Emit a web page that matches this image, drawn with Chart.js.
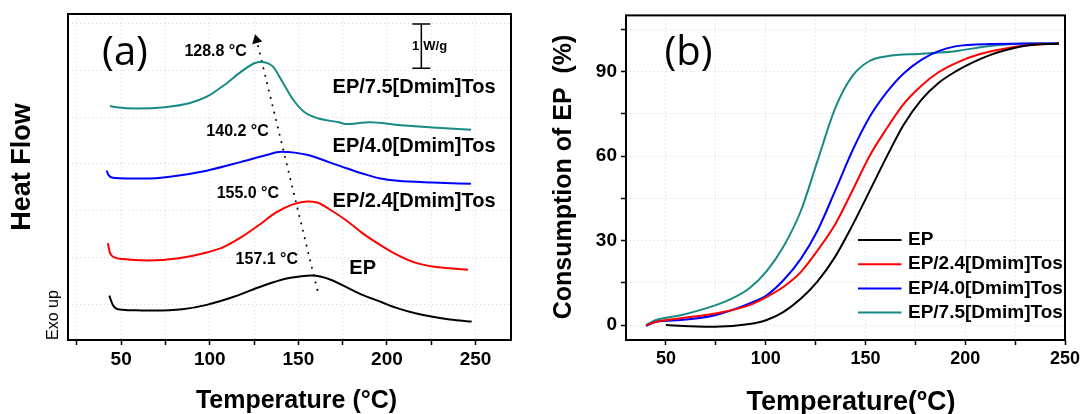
<!DOCTYPE html>
<html>
<head>
<meta charset="utf-8">
<script src="https://cdn.jsdelivr.net/npm/chart.js@4/dist/chart.umd.min.js"></script>
<style>
  html, body { margin: 0; padding: 0; background: #fff; }
  #wrap { position: relative; width: 1086px; height: 414px; }
  .panel { position: absolute; top: 0; width: 543px; height: 414px; }
</style>
</head>
<body>
<div id="wrap">
  <div class="panel" style="left:0"><canvas id="dsc_chart"></canvas></div>
  <div class="panel" style="left:543px"><canvas id="conv_chart"></canvas></div>
</div>
<script>
// ---- (a) DSC curves, heat flow in W/g (curves stacked with offsets) ----
const seriesNames = ['EP', 'EP/2.4[Dmim]Tos', 'EP/4.0[Dmim]Tos', 'EP/7.5[Dmim]Tos'];
const seriesColors = ['#000000', '#ff0000', '#0000ff', '#178a84'];
const peakTemps = [157.1, 155.0, 140.2, 128.8];

const dscT_EP = [43.3, 45.3, 48.2, 55, 68.8, 84.5, 98.3, 114, 129.7, 143.4, 150, 157.1, 163, 169, 176.8, 186.6, 196.4, 206.2, 216, 225.8, 235.6, 247.8];
const dscHF_EP = [0.19, -0.02, -0.12, -0.14, -0.15, -0.12, -0.02, 0.17, 0.41, 0.58, 0.62, 0.65, 0.62, 0.54, 0.39, 0.20, 0.05, -0.10, -0.21, -0.29, -0.35, -0.40];

const dscT_24 = [42.5, 43.7, 46.3, 51.2, 64.9, 82.5, 98.3, 108, 117.8, 127.6, 137.5, 147.3, 155.0, 161, 166.9, 176.7, 186.5, 196.3, 206.1, 215.9, 225.7, 235.5, 245.7];
const dscHF_24 = [1.38, 1.16, 1.06, 1.02, 0.99, 1.04, 1.17, 1.30, 1.52, 1.79, 2.08, 2.27, 2.33, 2.30, 2.17, 1.91, 1.60, 1.34, 1.11, 0.94, 0.85, 0.81, 0.78];

const dscT_40 = [41.8, 42.9, 45.3, 63, 78.6, 98.3, 117.8, 131.6, 140.2, 148, 156, 166.9, 176.7, 186.5, 196.3, 206.1, 225.7, 247.4];
const dscHF_40 = [3.03, 2.93, 2.87, 2.85, 2.90, 3.03, 3.23, 3.38, 3.46, 3.44, 3.38, 3.23, 3.09, 2.96, 2.85, 2.80, 2.76, 2.73];

const dscT_75 = [43.7, 47.3, 59, 74.7, 88.4, 98.3, 108, 117.8, 125.2, 128.8, 135.5, 141.4, 147.3, 153.2, 161, 172.8, 176.7, 190.4, 206.1, 225.7, 247.4];
const dscHF_75 = [4.50, 4.47, 4.44, 4.47, 4.56, 4.71, 4.97, 5.28, 5.47, 5.50, 5.40, 5.02, 4.63, 4.37, 4.22, 4.13, 4.09, 4.13, 4.07, 4.01, 3.96];

// dotted guide through the peaks, arrow at the top end
const trendT = [160.7, 126.4];
const trendHF = [0.32, 6.0];

const scaleBarWg = 1;

// ---- (b) consumption of EP, % ----
const convT_EP = [50, 62, 74.6, 91.9, 100.5, 109, 117.7, 126, 135, 143.5, 152, 160.8, 169, 178, 186.6, 195, 203.8, 212, 220, 230, 247];
const conv_EP = [0, -0.4, -0.6, 0.35, 1.8, 4.7, 9.4, 15.5, 24.5, 35.5, 47.5, 60, 71, 80, 86, 90, 93.3, 95.8, 97.6, 99.2, 100];

const convT_24 = [40.2, 45.3, 57.4, 74.6, 91.9, 100.5, 109, 117.7, 126, 135, 143.5, 152, 160.8, 169, 178, 186.6, 197, 207, 217.4, 230, 247];
const conv_24 = [0, 1.2, 2.4, 4.1, 7.1, 10, 13.6, 18.9, 26.5, 36, 47.8, 60, 70, 78.4, 85, 89.8, 93.6, 96.2, 97.9, 99.3, 100];

const convT_40 = [40, 45.3, 57.4, 74.6, 92, 100.5, 109, 117.7, 126, 135, 143.5, 152, 160.8, 169, 178, 186.6, 195, 212, 247];
const conv_40 = [-0.3, 1.2, 1.8, 3.5, 7.7, 10.6, 16, 23.6, 33.6, 48, 62, 73.8, 82.8, 89.3, 94.2, 97.3, 99, 99.8, 100];

const convT_75 = [40, 45, 57.4, 74.6, 83, 92, 100.5, 109, 117.7, 126, 135, 143.5, 152, 160.8, 178, 195, 212, 229.7, 247];
const conv_75 = [0, 1.8, 3.5, 7, 9.4, 13.2, 19.2, 28, 40.7, 58.4, 77.3, 88.5, 93.8, 95.5, 96.4, 97.3, 99.1, 100, 100];

// axis ticks: every 25 / 15 with labels on the majors
const xTicksA = [25, 50, 75, 100, 125, 150, 175, 200, 225, 250];
const xLabelsA = [50, 100, 150, 200, 250];
const yGridA = [0, 1.0606, 2.1212, 3.1818, 4.2424, 5.303, 6.3636];
const xTicksB = [50, 75, 100, 125, 150, 175, 200, 225, 250];
const xLabelsB = [50, 100, 150, 200, 250];
const yTicksB = [0, 15, 30, 45, 60, 75, 90, 105];
const yLabelsB = [0, 30, 60, 90];

const FONT = '"Liberation Sans", Arial, sans-serif';

function pts(xs, ys) {
  return xs.map((x, i) => ({ x: x, y: ys[i] }));
}

function curve(label, color, xs, ys) {
  return {
    label: label,
    data: pts(xs, ys),
    borderColor: color,
    backgroundColor: color,
    borderWidth: 2,
    pointRadius: 0,
    fill: false,
    cubicInterpolationMode: 'monotone'
  };
}

function fixedTicks(values) {
  return scale => { scale.ticks = values.map(v => ({ value: v })); };
}

function text(ctx, str, x, y, font, align, rot) {
  ctx.save();
  ctx.translate(x, y);
  if (rot) ctx.rotate(rot);
  ctx.font = font;
  ctx.fillStyle = '#000';
  ctx.textAlign = align || 'center';
  ctx.textBaseline = 'middle';
  ctx.fillText(str, 0, 0);
  ctx.restore();
}

// box around the plot area
const framePlugin = {
  id: 'frame',
  afterDatasetsDraw(chart) {
    const a = chart.chartArea, ctx = chart.ctx;
    ctx.save();
    ctx.strokeStyle = '#000';
    ctx.lineWidth = 2;
    ctx.strokeRect(a.left, a.top, a.right - a.left, a.bottom - a.top);
    ctx.restore();
  }
};

function gridOpts() {
  return {
    color: '#d9d9d9',
    lineWidth: 1,
    tickColor: '#000',
    tickWidth: 1.5,
    tickLength: 5,
    borderDash: [1, 3]
  };
}

// ---------- chart (a) ----------
const peakLabelPos = [
  { x: 132.2, y: 1.0 },
  { x: 121.5, y: 2.52 },
  { x: 115.7, y: 3.91 },
  { x: 103.3, y: 5.73 }
];
const nameLabelPos = [
  { x: 186.3, y: 0.80, align: 'center' },
  { x: 169.3, y: 2.34, align: 'left' },
  { x: 169.3, y: 3.57, align: 'left' },
  { x: 169.3, y: 4.93, align: 'left' }
];

const dscText = {
  id: 'dscText',
  afterDraw(chart) {
    const ctx = chart.ctx, xs = chart.scales.x, ys = chart.scales.y;
    peakTemps.forEach((t, i) => {
      const p = peakLabelPos[i];
      text(ctx, t.toFixed(1) + ' °C', xs.getPixelForValue(p.x), ys.getPixelForValue(p.y), 'bold 16px ' + FONT);
    });
    seriesNames.forEach((n, i) => {
      const p = nameLabelPos[i];
      text(ctx, n, xs.getPixelForValue(p.x), ys.getPixelForValue(p.y), 'bold 20px ' + FONT, p.align);
    });

    // 1 W/g scale bar
    const bx = xs.getPixelForValue(219.4);
    const top = ys.getPixelForValue(6.36), bot = ys.getPixelForValue(6.36 - scaleBarWg);
    ctx.save();
    ctx.strokeStyle = '#000';
    ctx.lineWidth = 1.5;
    ctx.beginPath();
    ctx.moveTo(bx, top); ctx.lineTo(bx, bot);
    ctx.moveTo(bx - 9, top); ctx.lineTo(bx + 9, top);
    ctx.moveTo(bx - 9, bot); ctx.lineTo(bx + 9, bot);
    ctx.stroke();
    ctx.restore();
    const mid = (top + bot) / 2;
    text(ctx, scaleBarWg.toString(), bx - 2, mid, 'bold 13px ' + FONT, 'right');
    text(ctx, 'W/g', bx + 2, mid, 'bold 13px ' + FONT, 'left');

    text(ctx, '(a)', 125, 54, '40px "Open Sans", sans-serif');
    text(ctx, 'Heat Flow', 22.5, 167, 'bold 27px ' + FONT, 'center', -Math.PI / 2);
    text(ctx, 'Exo up', 54, 315, '16px ' + FONT, 'center', -Math.PI / 2);
    text(ctx, 'Temperature (°C)', 296.5, 401, 'bold 25px ' + FONT);
  }
};

const dscSets = [
  curve(seriesNames[0], seriesColors[0], dscT_EP, dscHF_EP),
  curve(seriesNames[1], seriesColors[1], dscT_24, dscHF_24),
  curve(seriesNames[2], seriesColors[2], dscT_40, dscHF_40),
  curve(seriesNames[3], seriesColors[3], dscT_75, dscHF_75),
  {
    label: 'peak shift',
    data: pts(trendT, trendHF),
    borderColor: '#000',
    backgroundColor: '#000',
    borderWidth: 2,
    borderDash: [0.1, 7.5],
    borderCapStyle: 'round',
    pointRadius: [0, 4],
    pointStyle: 'triangle',
    pointRotation: -14,
    fill: false
  }
];

new Chart(document.getElementById('dsc_chart'), {
  type: 'line',
  data: { datasets: dscSets },
  options: {
    responsive: true,
    maintainAspectRatio: false,
    animation: false,
    layout: { padding: { top: 14, right: 32, left: 0, bottom: 0 } },
    plugins: { legend: { display: false }, tooltip: { enabled: false } },
    scales: {
      x: {
        type: 'linear', min: 20, max: 270,
        afterBuildTicks: fixedTicks(xTicksA),
        afterFit: s => { s.height = 74; },
        border: { display: false, dash: [1, 3] },
        grid: gridOpts(),
        ticks: {
          autoSkip: false, maxRotation: 0,
          padding: 3, color: '#000',
          font: { family: FONT, size: 19, weight: 'bold' },
          callback: v => xLabelsA.includes(v) ? v : ''
        }
      },
      y: {
        type: 'linear', min: -0.818, max: 6.59,
        afterBuildTicks: fixedTicks(yGridA),
        afterFit: s => { s.width = 68; },
        border: { display: false, dash: [1, 3] },
        grid: Object.assign(gridOpts(), { drawTicks: false, tickLength: 0 }),
        ticks: { display: false }
      }
    }
  },
  plugins: [framePlugin, dscText]
});

// ---------- chart (b) ----------
const convText = {
  id: 'convText',
  afterDraw(chart) {
    const ctx = chart.ctx;
    // legend
    chart.data.datasets.forEach((ds, i) => {
      const y = 240 + i * 24.2;
      ctx.save();
      ctx.strokeStyle = ds.borderColor;
      ctx.lineWidth = 2;
      ctx.beginPath();
      ctx.moveTo(315, y); ctx.lineTo(358.5, y);
      ctx.stroke();
      ctx.restore();
      text(ctx, ds.label, 365, y, 'bold 19px ' + FONT, 'left');
    });
    text(ctx, '(b)', 145.5, 54, '40px "Open Sans", sans-serif');
    text(ctx, 'Consumption of EP  (%)', 21, 177, 'bold 25px ' + FONT, 'center', -Math.PI / 2);
    text(ctx, 'Temperature(ºC)', 308, 403, 'bold 27px ' + FONT);
  }
};

new Chart(document.getElementById('conv_chart'), {
  type: 'line',
  data: {
    datasets: [
      curve(seriesNames[0], seriesColors[0], convT_EP, conv_EP),
      curve(seriesNames[1], seriesColors[1], convT_24, conv_24),
      curve(seriesNames[2], seriesColors[2], convT_40, conv_40),
      curve(seriesNames[3], seriesColors[3], convT_75, conv_75)
    ]
  },
  options: {
    responsive: true,
    maintainAspectRatio: false,
    animation: false,
    layout: { padding: { top: 14, right: 21, left: 0, bottom: 0 } },
    plugins: { legend: { display: false }, tooltip: { enabled: false } },
    scales: {
      x: {
        type: 'linear', min: 30, max: 250,
        afterBuildTicks: fixedTicks(xTicksB),
        afterFit: s => { s.height = 74; },
        border: { display: false, dash: [1, 3] },
        grid: gridOpts(),
        ticks: {
          autoSkip: false, maxRotation: 0,
          padding: 3, color: '#000',
          font: { family: FONT, size: 18, weight: 'bold' },
          callback: v => xLabelsB.includes(v) ? v : ''
        }
      },
      y: {
        type: 'linear', min: -5.3, max: 110,
        afterBuildTicks: fixedTicks(yTicksB),
        afterFit: s => { s.width = 83; },
        border: { display: false, dash: [1, 3] },
        grid: gridOpts(),
        ticks: {
          autoSkip: false,
          padding: 4, color: '#000',
          font: { family: FONT, size: 19, weight: 'bold' },
          callback: v => yLabelsB.includes(v) ? v : ''
        }
      }
    }
  },
  plugins: [framePlugin, convText]
});
</script>
</body>
</html>
